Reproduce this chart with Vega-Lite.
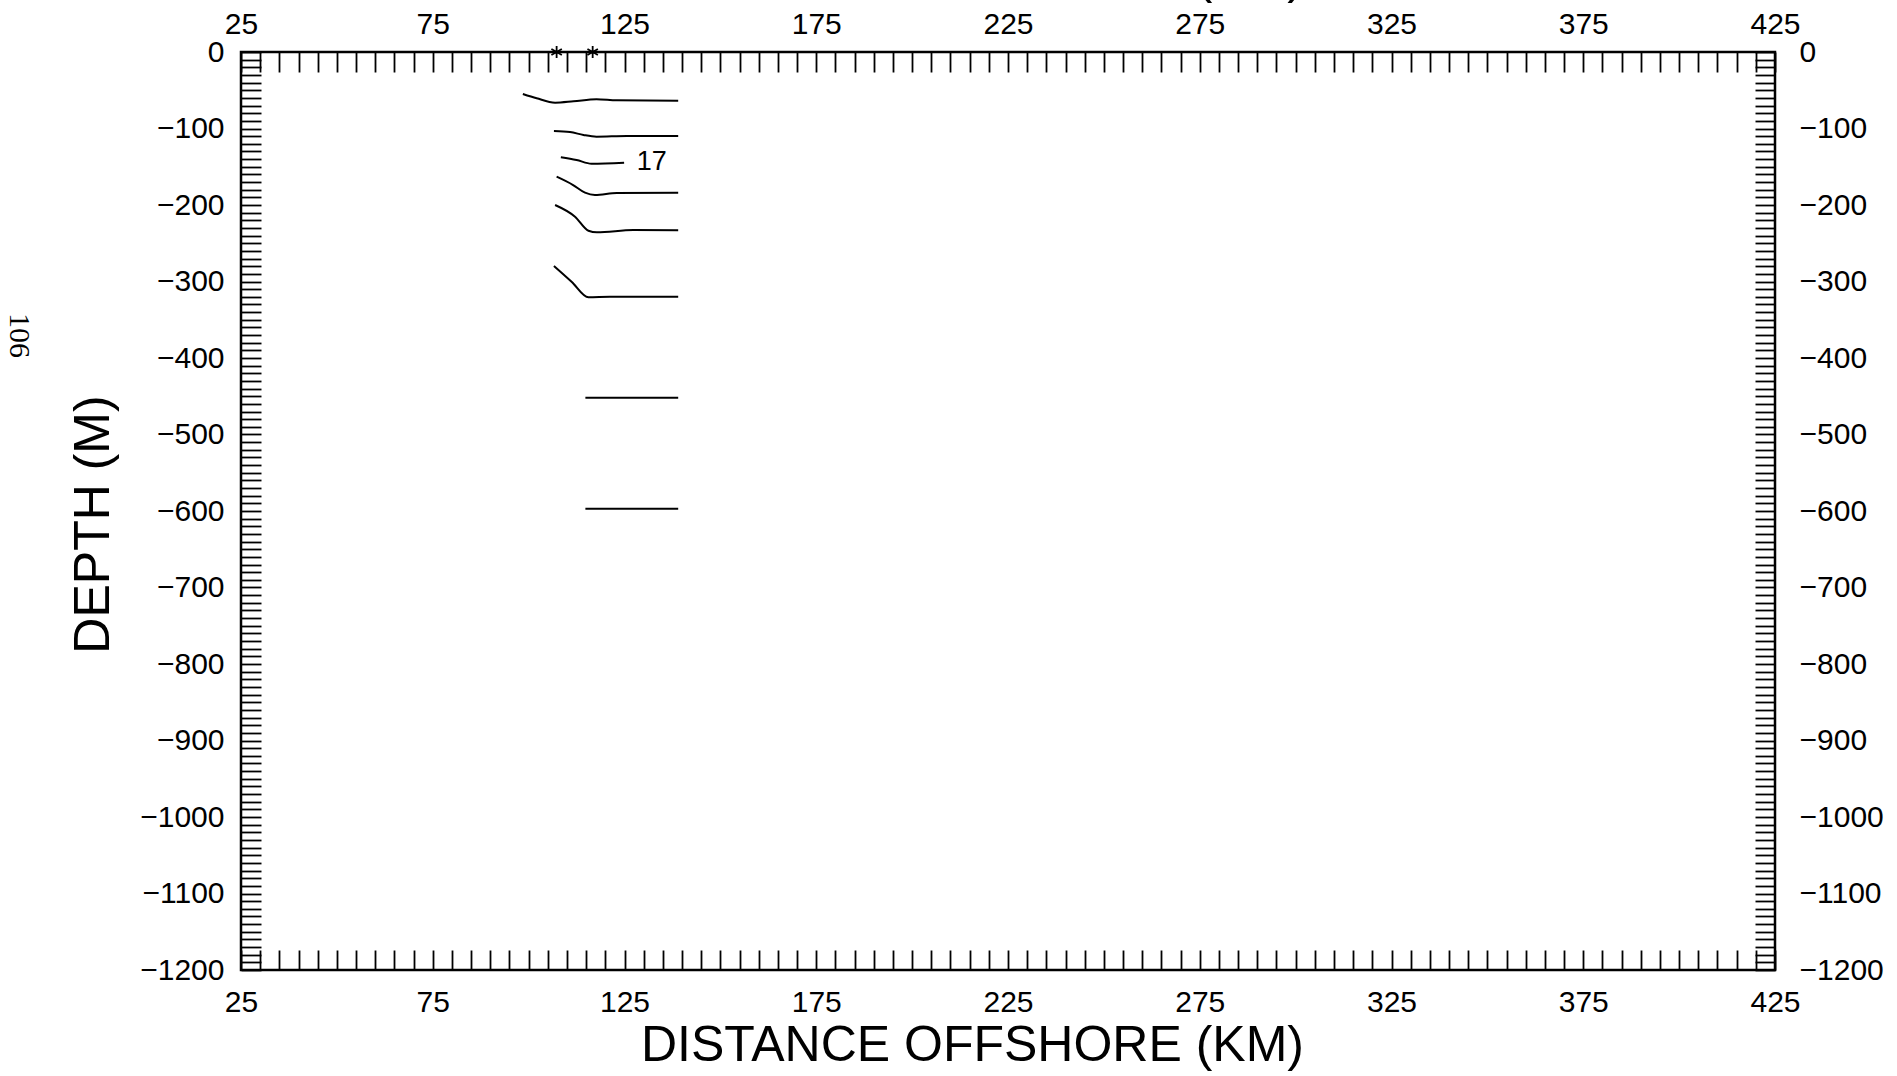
{
  "$schema": "https://vega.github.io/schema/vega-lite/v6.json",
  "width": 1534,
  "height": 918,
  "autosize": {"type": "none"},
  "padding": {"left": 241, "top": 52, "right": 122, "bottom": 106},
  "background": "white",
  "config": {
    "view": {"stroke": "black", "strokeWidth": 2.5},
    "font": "Liberation Sans",
    "axis": {
      "domain": false,
      "grid": false,
      "tickSize": -20,
      "tickWidth": 1.8,
      "tickColor": "black",
      "labelColor": "black",
      "labelFontSize": 30,
      "labelFlush": false,
      "labelOverlap": false,
      "labelBound": false,
      "format": "d",
      "titleColor": "black",
      "titleFontWeight": "normal",
      "titleFontSize": 50
    }
  },
  "datasets": {
    "lines": [
      {"level": 19, "km": 98.5, "depth": -54.9},
      {"level": 19, "km": 102.1, "depth": -60.5},
      {"level": 19, "km": 106.9, "depth": -66.3},
      {"level": 19, "km": 111.7, "depth": -64.5},
      {"level": 19, "km": 117.7, "depth": -61.8},
      {"level": 19, "km": 123.0, "depth": -63.2},
      {"level": 19, "km": 139.0, "depth": -63.7},
      {"level": 18, "km": 106.6, "depth": -103.3},
      {"level": 18, "km": 110.8, "depth": -104.6},
      {"level": 18, "km": 114.3, "depth": -108.5},
      {"level": 18, "km": 117.7, "depth": -110.7},
      {"level": 18, "km": 125.6, "depth": -109.8},
      {"level": 18, "km": 139.0, "depth": -109.8},
      {"level": 17, "km": 108.4, "depth": -137.6},
      {"level": 17, "km": 112.5, "depth": -141.2},
      {"level": 17, "km": 116.4, "depth": -146.0},
      {"level": 17, "km": 124.9, "depth": -144.7},
      {"level": 16, "km": 107.3, "depth": -163.0},
      {"level": 16, "km": 111.6, "depth": -173.9},
      {"level": 16, "km": 114.7, "depth": -183.9},
      {"level": 16, "km": 117.3, "depth": -186.9},
      {"level": 16, "km": 123.0, "depth": -184.3},
      {"level": 16, "km": 139.0, "depth": -183.9},
      {"level": 15, "km": 106.9, "depth": -200.0},
      {"level": 15, "km": 112.1, "depth": -215.3},
      {"level": 15, "km": 115.6, "depth": -233.6},
      {"level": 15, "km": 117.8, "depth": -235.7},
      {"level": 15, "km": 127.3, "depth": -232.7},
      {"level": 15, "km": 139.0, "depth": -233.1},
      {"level": 14, "km": 106.6, "depth": -279.7},
      {"level": 14, "km": 111.2, "depth": -300.3},
      {"level": 14, "km": 115.6, "depth": -320.7},
      {"level": 14, "km": 121.2, "depth": -319.9},
      {"level": 14, "km": 139.0, "depth": -319.9},
      {"level": 10, "km": 114.8, "depth": -452.0},
      {"level": 10, "km": 139.0, "depth": -452.0},
      {"level": 8, "km": 114.8, "depth": -597.0},
      {"level": 8, "km": 139.0, "depth": -597.0}
    ],
    "labels": [
      {"label": "17", "km": 132.1, "depth": -143.4}
    ],
    "stations": [
      {"km": 107.3, "depth": 0},
      {"km": 116.7, "depth": 0}
    ]
  },
  "resolve": {"axis": {"x": "independent", "y": "independent"}},
  "layer": [
    {
      "data": {"name": "lines"},
      "mark": {"type": "line", "color": "black", "strokeWidth": 2, "interpolate": "monotone"},
      "encoding": {
        "x": {
          "field": "km", "type": "quantitative",
          "scale": {"domain": [25, 425], "nice": false, "zero": false},
          "axis": {
            "orient": "bottom",
            "values": [25,30,35,40,45,50,55,60,65,70,75,80,85,90,95,100,105,110,115,120,125,130,135,140,145,150,155,160,165,170,175,180,185,190,195,200,205,210,215,220,225,230,235,240,245,250,255,260,265,270,275,280,285,290,295,300,305,310,315,320,325,330,335,340,345,350,355,360,365,370,375,380,385,390,395,400,405,410,415,420,425],
            "labelExpr": "(datum.value - 25) % 50 == 0 ? datum.label : ''",
            "labelPadding": 37,
            "labelBaseline": "top",
            "title": "DISTANCE  OFFSHORE  (KM)",
            "titleX": 731,
            "titleY": 90,
            "titleAlign": "center",
            "titleBaseline": "alphabetic"
          }
        },
        "y": {
          "field": "depth", "type": "quantitative",
          "scale": {"domain": [-1200, 0], "nice": false, "zero": false},
          "axis": {
            "orient": "left",
            "values": [0,-10,-20,-30,-40,-50,-60,-70,-80,-90,-100,-110,-120,-130,-140,-150,-160,-170,-180,-190,-200,-210,-220,-230,-240,-250,-260,-270,-280,-290,-300,-310,-320,-330,-340,-350,-360,-370,-380,-390,-400,-410,-420,-430,-440,-450,-460,-470,-480,-490,-500,-510,-520,-530,-540,-550,-560,-570,-580,-590,-600,-610,-620,-630,-640,-650,-660,-670,-680,-690,-700,-710,-720,-730,-740,-750,-760,-770,-780,-790,-800,-810,-820,-830,-840,-850,-860,-870,-880,-890,-900,-910,-920,-930,-940,-950,-960,-970,-980,-990,-1000,-1010,-1020,-1030,-1040,-1050,-1060,-1070,-1080,-1090,-1100,-1110,-1120,-1130,-1140,-1150,-1160,-1170,-1180,-1190,-1200],
            "labelExpr": "datum.value % 100 == 0 ? datum.label : ''",
            "labelPadding": 37,
            "title": "DEPTH  (M)",
            "titleX": -148,
            "titleY": 472,
            "titleAngle": 270,
            "titleAlign": "center",
            "titleBaseline": "middle"
          }
        },
        "detail": {"field": "level", "type": "nominal"}
      }
    },
    {
      "data": {"name": "labels"},
      "mark": {"type": "text", "fontSize": 27, "align": "center", "baseline": "middle", "color": "black"},
      "encoding": {
        "x": {
          "field": "km", "type": "quantitative",
          "scale": {"domain": [25, 425], "nice": false, "zero": false},
          "axis": {
            "orient": "top",
            "values": [25,30,35,40,45,50,55,60,65,70,75,80,85,90,95,100,105,110,115,120,125,130,135,140,145,150,155,160,165,170,175,180,185,190,195,200,205,210,215,220,225,230,235,240,245,250,255,260,265,270,275,280,285,290,295,300,305,310,315,320,325,330,335,340,345,350,355,360,365,370,375,380,385,390,395,400,405,410,415,420,425],
            "labelExpr": "(datum.value - 25) % 50 == 0 ? datum.label : ''",
            "labelPadding": 39,
            "labelBaseline": "alphabetic",
            "title": "DISTANCE  OFFSHORE  (KM)",
            "titleX": 731,
            "titleY": -60,
            "titleAlign": "center",
            "titleBaseline": "alphabetic"
          }
        },
        "y": {
          "field": "depth", "type": "quantitative",
          "scale": {"domain": [-1200, 0], "nice": false, "zero": false},
          "axis": {
            "orient": "right",
            "values": [0,-10,-20,-30,-40,-50,-60,-70,-80,-90,-100,-110,-120,-130,-140,-150,-160,-170,-180,-190,-200,-210,-220,-230,-240,-250,-260,-270,-280,-290,-300,-310,-320,-330,-340,-350,-360,-370,-380,-390,-400,-410,-420,-430,-440,-450,-460,-470,-480,-490,-500,-510,-520,-530,-540,-550,-560,-570,-580,-590,-600,-610,-620,-630,-640,-650,-660,-670,-680,-690,-700,-710,-720,-730,-740,-750,-760,-770,-780,-790,-800,-810,-820,-830,-840,-850,-860,-870,-880,-890,-900,-910,-920,-930,-940,-950,-960,-970,-980,-990,-1000,-1010,-1020,-1030,-1040,-1050,-1060,-1070,-1080,-1090,-1100,-1110,-1120,-1130,-1140,-1150,-1160,-1170,-1180,-1190,-1200],
            "labelExpr": "datum.value % 100 == 0 ? datum.label : ''",
            "labelPadding": 44,
            "title": null
          }
        },
        "text": {"field": "label", "type": "nominal"}
      }
    },
    {
      "data": {"name": "stations"},
      "mark": {"type": "point", "shape": "M0,-1L0,1M-0.87,-0.5L0.87,0.5M-0.87,0.5L0.87,-0.5", "size": 144, "filled": false, "stroke": "black", "strokeWidth": 1.8, "opacity": 1},
      "encoding": {
        "x": {
          "field": "km", "type": "quantitative",
          "scale": {"domain": [25, 425], "nice": false, "zero": false},
          "axis": null
        },
        "y": {
          "field": "depth", "type": "quantitative",
          "scale": {"domain": [-1200, 0], "nice": false, "zero": false},
          "axis": {
            "orient": "left",
            "labels": false,
            "ticks": false,
            "domain": false,
            "title": "106",
            "titleFont": "Liberation Serif",
            "titleFontSize": 30,
            "titleAngle": 90,
            "titleX": -223,
            "titleY": 283,
            "titleAlign": "center",
            "titleBaseline": "middle"
          }
        }
      }
    }
  ]
}
